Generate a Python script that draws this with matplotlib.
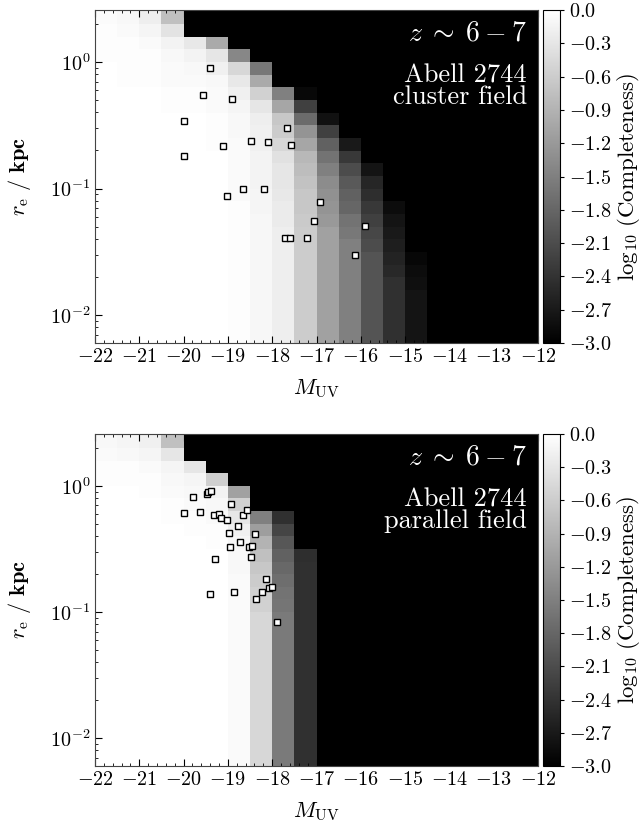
import matplotlib
matplotlib.use("Agg")
import matplotlib.pyplot as plt
import numpy as np
from matplotlib.ticker import FuncFormatter, MultipleLocator

plt.rcParams['font.family'] = 'serif'
plt.rcParams['font.serif'] = ['cmr10']
plt.rcParams['mathtext.fontset'] = 'cm'
plt.rcParams['axes.formatter.use_mathtext'] = True

# completeness grid: 0.5 mag bins in M_UV (-22 .. -12), 0.1 dex bins in log r_e (0.4 .. -2.3)
muv_edges = np.arange(-22.0, -11.99, 0.5)
logre_edges = np.arange(0.4, -2.31, -0.1)

# log10(completeness), one list per M_UV column, rows from top (large r_e) to bottom
B = -3.0
cluster_logc = [
    [-0.05, -0.03, -0.03, -0.03] + [0.0] * 23,
    [-0.09, -0.06, -0.03, -0.03, -0.03, -0.03] + [0.0] * 21,
    [-0.21, -0.12, -0.06, -0.03, -0.03, -0.03] + [0.0] * 21,
    [-0.75, -0.33, -0.15, -0.09, -0.06, -0.06, -0.03, -0.03] + [0.0] * 19,
    [B, B, -0.27, -0.15, -0.09, -0.06, -0.03, -0.03] + [0.0] * 19,
    [B, B, -1.0, -0.3, -0.18, -0.09, -0.06, -0.06, -0.03, -0.03, -0.03] + [0.0] * 16,
    [B] * 3 + [-1.41, -0.48, -0.27, -0.18, -0.12, -0.09, -0.09, -0.06, -0.06, -0.06, -0.06, -0.06] + [-0.03] * 12,
    [B] * 4 + [-1.6, -1.0, -0.54, -0.3, -0.21, -0.18, -0.18, -0.15, -0.15, -0.15, -0.12, -0.12] + [-0.1] * 11,
    [B] * 6 + [-1.5, -1.05, -0.66, -0.6, -0.48, -0.36, -0.3, -0.3, -0.27, -0.24, -0.24] + [-0.21] * 10,
    [B] * 6 + [-2.9, -2.25, -1.74, -1.26, -1.05, -0.84, -0.78, -0.72, -0.66, -0.66, -0.63] + [-0.6] * 10,
    [B] * 8 + [-2.8, -2.25, -1.86, -1.65, -1.5, -1.35, -1.29, -1.26, -1.2] + [-1.11] * 10,
    [B] * 10 + [-2.7, -2.34, -2.1, -1.95, -1.86, -1.8, -1.65, -1.59] + [-1.5] * 9,
    [B] * 12 + [-2.76, -2.55, -2.46, -2.34, -2.25, -2.16, -2.1] + [-2.01] * 8,
    [B] * 15 + [-2.85, -2.76, -2.7, -2.64, -2.58, -2.52] + [-2.43] * 6,
    [B] * 19 + [-2.91, -2.85, -2.82] + [-2.76] * 5,
    [B] * 27,
    [B] * 27,
    [B] * 27,
    [B] * 27,
    [B] * 27,
]

parallel_logc = [
    [-0.09, -0.06, -0.03, -0.03] + [0.0] * 23,
    [-0.12, -0.09, -0.03, -0.03] + [0.0] * 23,
    [-0.18, -0.12, -0.06, -0.03, -0.03] + [0.0] * 22,
    [-0.75, -0.3, -0.12, -0.09, -0.06, -0.03, -0.03] + [0.0] * 20,
    [B, B, -0.3, -0.12, -0.09, -0.06, -0.03, -0.03] + [0.0] * 19,
    [B, B, B, -0.57, -0.15, -0.09, -0.06, -0.03, -0.03] + [0.0] * 18,
    [B] * 4 + [-1.11, -0.54, -0.3, -0.18, -0.12, -0.09, -0.09] + [-0.06] * 16,
    [B] * 6 + [-1.5, -1.14, -0.9, -0.75, -0.66, -0.6, -0.54, -0.54] + [-0.48] * 13,
    [B] * 6 + [-2.43, -2.19, -1.98, -1.86, -1.77, -1.71, -1.65, -1.62] + [-1.56] * 13,
    [B] * 9 + [-2.46] + [-2.43] * 17,
    [B] * 27,
    [B] * 27,
    [B] * 27,
    [B] * 27,
    [B] * 27,
    [B] * 27,
    [B] * 27,
    [B] * 27,
    [B] * 27,
    [B] * 27,
]

# observed galaxies
cluster_muv = [-19.40, -19.56, -18.90, -19.99, -17.67, -19.10, -18.48, -18.10, -17.58, -19.98,
               -18.67, -18.18, -19.01, -16.92, -17.06, -15.91, -17.70, -17.60, -17.21, -16.12]
cluster_re = [0.89, 0.548, 0.507, 0.343, 0.30, 0.217, 0.237, 0.234, 0.221, 0.18,
              0.10, 0.10, 0.087, 0.078, 0.0557, 0.0506, 0.041, 0.0404, 0.0406, 0.0298]

parallel_muv = [-19.78, -19.48, -19.46, -19.38, -18.93, -19.98, -19.62, -19.31, -19.19, -19.16,
                -19.02, -18.67, -18.56, -18.77, -18.98, -18.39, -18.73, -18.96, -18.52, -18.46,
                -19.29, -18.49, -18.15, -19.41, -18.86, -18.22, -18.07, -18.00, -18.37, -17.90]
parallel_re = [0.82, 0.86, 0.897, 0.908, 0.72, 0.61, 0.615, 0.59, 0.597, 0.555,
               0.538, 0.582, 0.646, 0.48, 0.425, 0.415, 0.361, 0.325, 0.328, 0.331,
               0.261, 0.271, 0.183, 0.14, 0.143, 0.145, 0.154, 0.157, 0.127, 0.0826]


def draw_panel(fig, ax, cax, logc_cols, muv, re, field):
    grid = np.array(logc_cols).T
    mesh = ax.pcolormesh(muv_edges, 10 ** logre_edges, grid, cmap='gray',
                         vmin=-3, vmax=0, shading='flat')
    ax.plot(muv, re, 's', ms=4.3, mfc='white', mec='black', mew=1.0)

    ax.set_yscale('log')
    ax.set_xlim(-22, -12)
    ax.set_ylim(10 ** -2.22, 10 ** 0.41)
    ax.xaxis.set_major_locator(MultipleLocator(1))
    ax.xaxis.set_minor_locator(MultipleLocator(0.2))
    ax.xaxis.set_major_formatter(FuncFormatter(lambda v, p: f"${v:.0f}$"))
    ax.tick_params(which='both', direction='in', top=True, right=True, labelsize=14.5)
    ax.tick_params(which='major', length=5)
    ax.tick_params(which='minor', length=2.5)
    for s in ax.spines.values():
        s.set_color('#444444')

    ax.set_xlabel(r"$M_{\rm UV}$", fontsize=16, labelpad=8)
    ax.set_ylabel(r"$r_{\rm e}$ $\mathbf{/\ kpc}$", fontsize=16, labelpad=12)

    ax.text(0.975, 0.93, r"$z \;\sim\; 6 - 7$", color='white', fontsize=20,
            ha='right', va='center', transform=ax.transAxes)
    ax.text(0.975, 0.77, "Abell 2744\n" + field, color='white', fontsize=19,
            ha='right', va='center', linespacing=0.9, transform=ax.transAxes)

    cbar = fig.colorbar(mesh, cax=cax, ticks=np.linspace(-3, 0, 11))
    cbar.ax.yaxis.set_major_formatter(
        FuncFormatter(lambda v, p: f"${0.0 if abs(v) < 1e-9 else v:.1f}$"))
    cbar.ax.tick_params(labelsize=14.5, length=3)
    cbar.set_label(r"$\log_{10}\,(\mathrm{Completeness})$", fontsize=16.5, labelpad=2)


fig = plt.figure(figsize=(6.42, 8.33), dpi=100)
ax1 = fig.add_axes([0.148, 0.5882, 0.690, 0.3998])
cax1 = fig.add_axes([0.8458, 0.5882, 0.0265, 0.3998])
ax2 = fig.add_axes([0.148, 0.0804, 0.690, 0.3986])
cax2 = fig.add_axes([0.8458, 0.0804, 0.0265, 0.3986])

draw_panel(fig, ax1, cax1, cluster_logc, cluster_muv, cluster_re, "cluster field")
draw_panel(fig, ax2, cax2, parallel_logc, parallel_muv, parallel_re, "parallel field")

fig.savefig("out.png", dpi=100)
